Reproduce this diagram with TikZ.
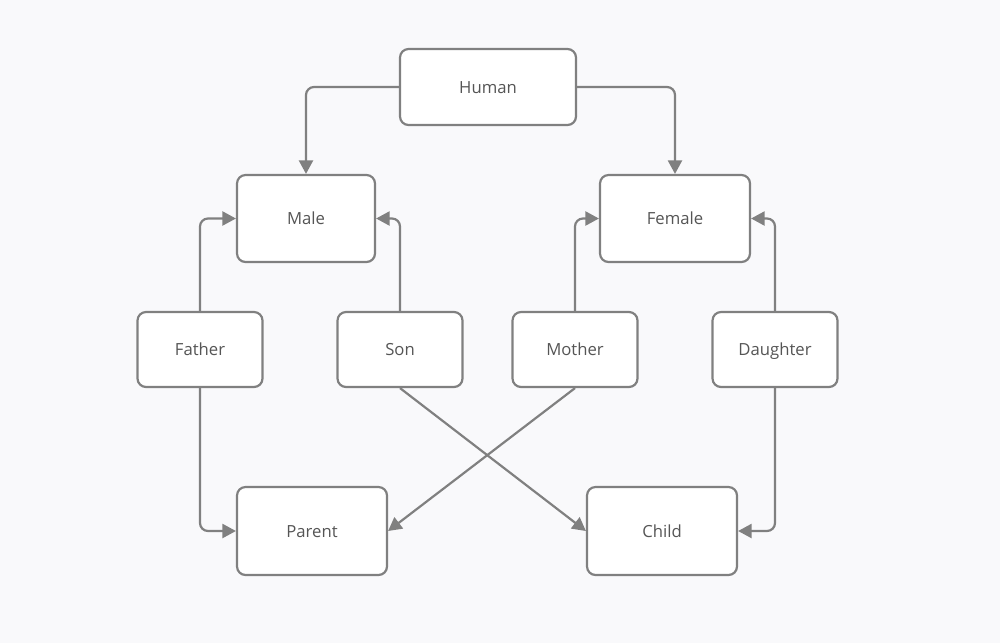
\documentclass[tikz,border=0pt]{standalone}
\usepackage{fontspec}
\setmainfont{Open Sans}
\usetikzlibrary{arrows.meta}
\definecolor{bg}{HTML}{F9F9FB}
\definecolor{ln}{HTML}{808080}
\definecolor{tx}{HTML}{555555}
\begin{document}
\begin{tikzpicture}[x=0.02cm,y=-0.02cm,
  box/.style={draw=ln, fill=white, line width=1.25pt, rounded corners=0.17cm,
    inner sep=0pt, text=tx, font=\fontsize{9.5}{11}\selectfont,
    text height=1.6ex, text depth=0.3ex},
  arr/.style={draw=ln, line width=1.25pt, rounded corners=0.16cm,
    -{Triangle[length=0.27cm,width=0.28cm]}}]
\fill[bg] (0,0) rectangle (1000,643);
\useasboundingbox (0,0) rectangle (1000,643);
\node[box, minimum width=3.52cm, minimum height=1.52cm] (human) at (488,87) {Human};
\node[box, minimum width=2.76cm, minimum height=1.74cm] (male) at (306,218.5) {Male};
\node[box, minimum width=3.0cm, minimum height=1.74cm] (female) at (675,218.5) {Female};
\node[box, minimum width=2.5cm, minimum height=1.5cm] (father) at (200,349.5) {Father};
\node[box, minimum width=2.5cm, minimum height=1.5cm] (son) at (400,349.5) {Son};
\node[box, minimum width=2.5cm, minimum height=1.5cm] (mother) at (575,349.5) {Mother};
\node[box, minimum width=2.5cm, minimum height=1.5cm] (daughter) at (775,349.5) {Daughter};
\node[box, minimum width=3.0cm, minimum height=1.76cm] (parent) at (312,531) {Parent};
\node[box, minimum width=3.0cm, minimum height=1.76cm] (child) at (662,531) {Child};
\draw[arr] (human.west) -| (male.north);
\draw[arr] (human.east) -| (female.north);
\draw[arr] (father.north) |- (male.west);
\draw[arr] (son.north) |- (male.east);
\draw[arr] (mother.north) |- (female.west);
\draw[arr] (daughter.north) |- (female.east);
\draw[arr] (father.south) |- (parent.west);
\draw[arr] (daughter.south) |- (child.east);
\draw[arr] (son.south) -- (child.west);
\draw[arr] (mother.south) -- (parent.east);
\end{tikzpicture}
\end{document}
